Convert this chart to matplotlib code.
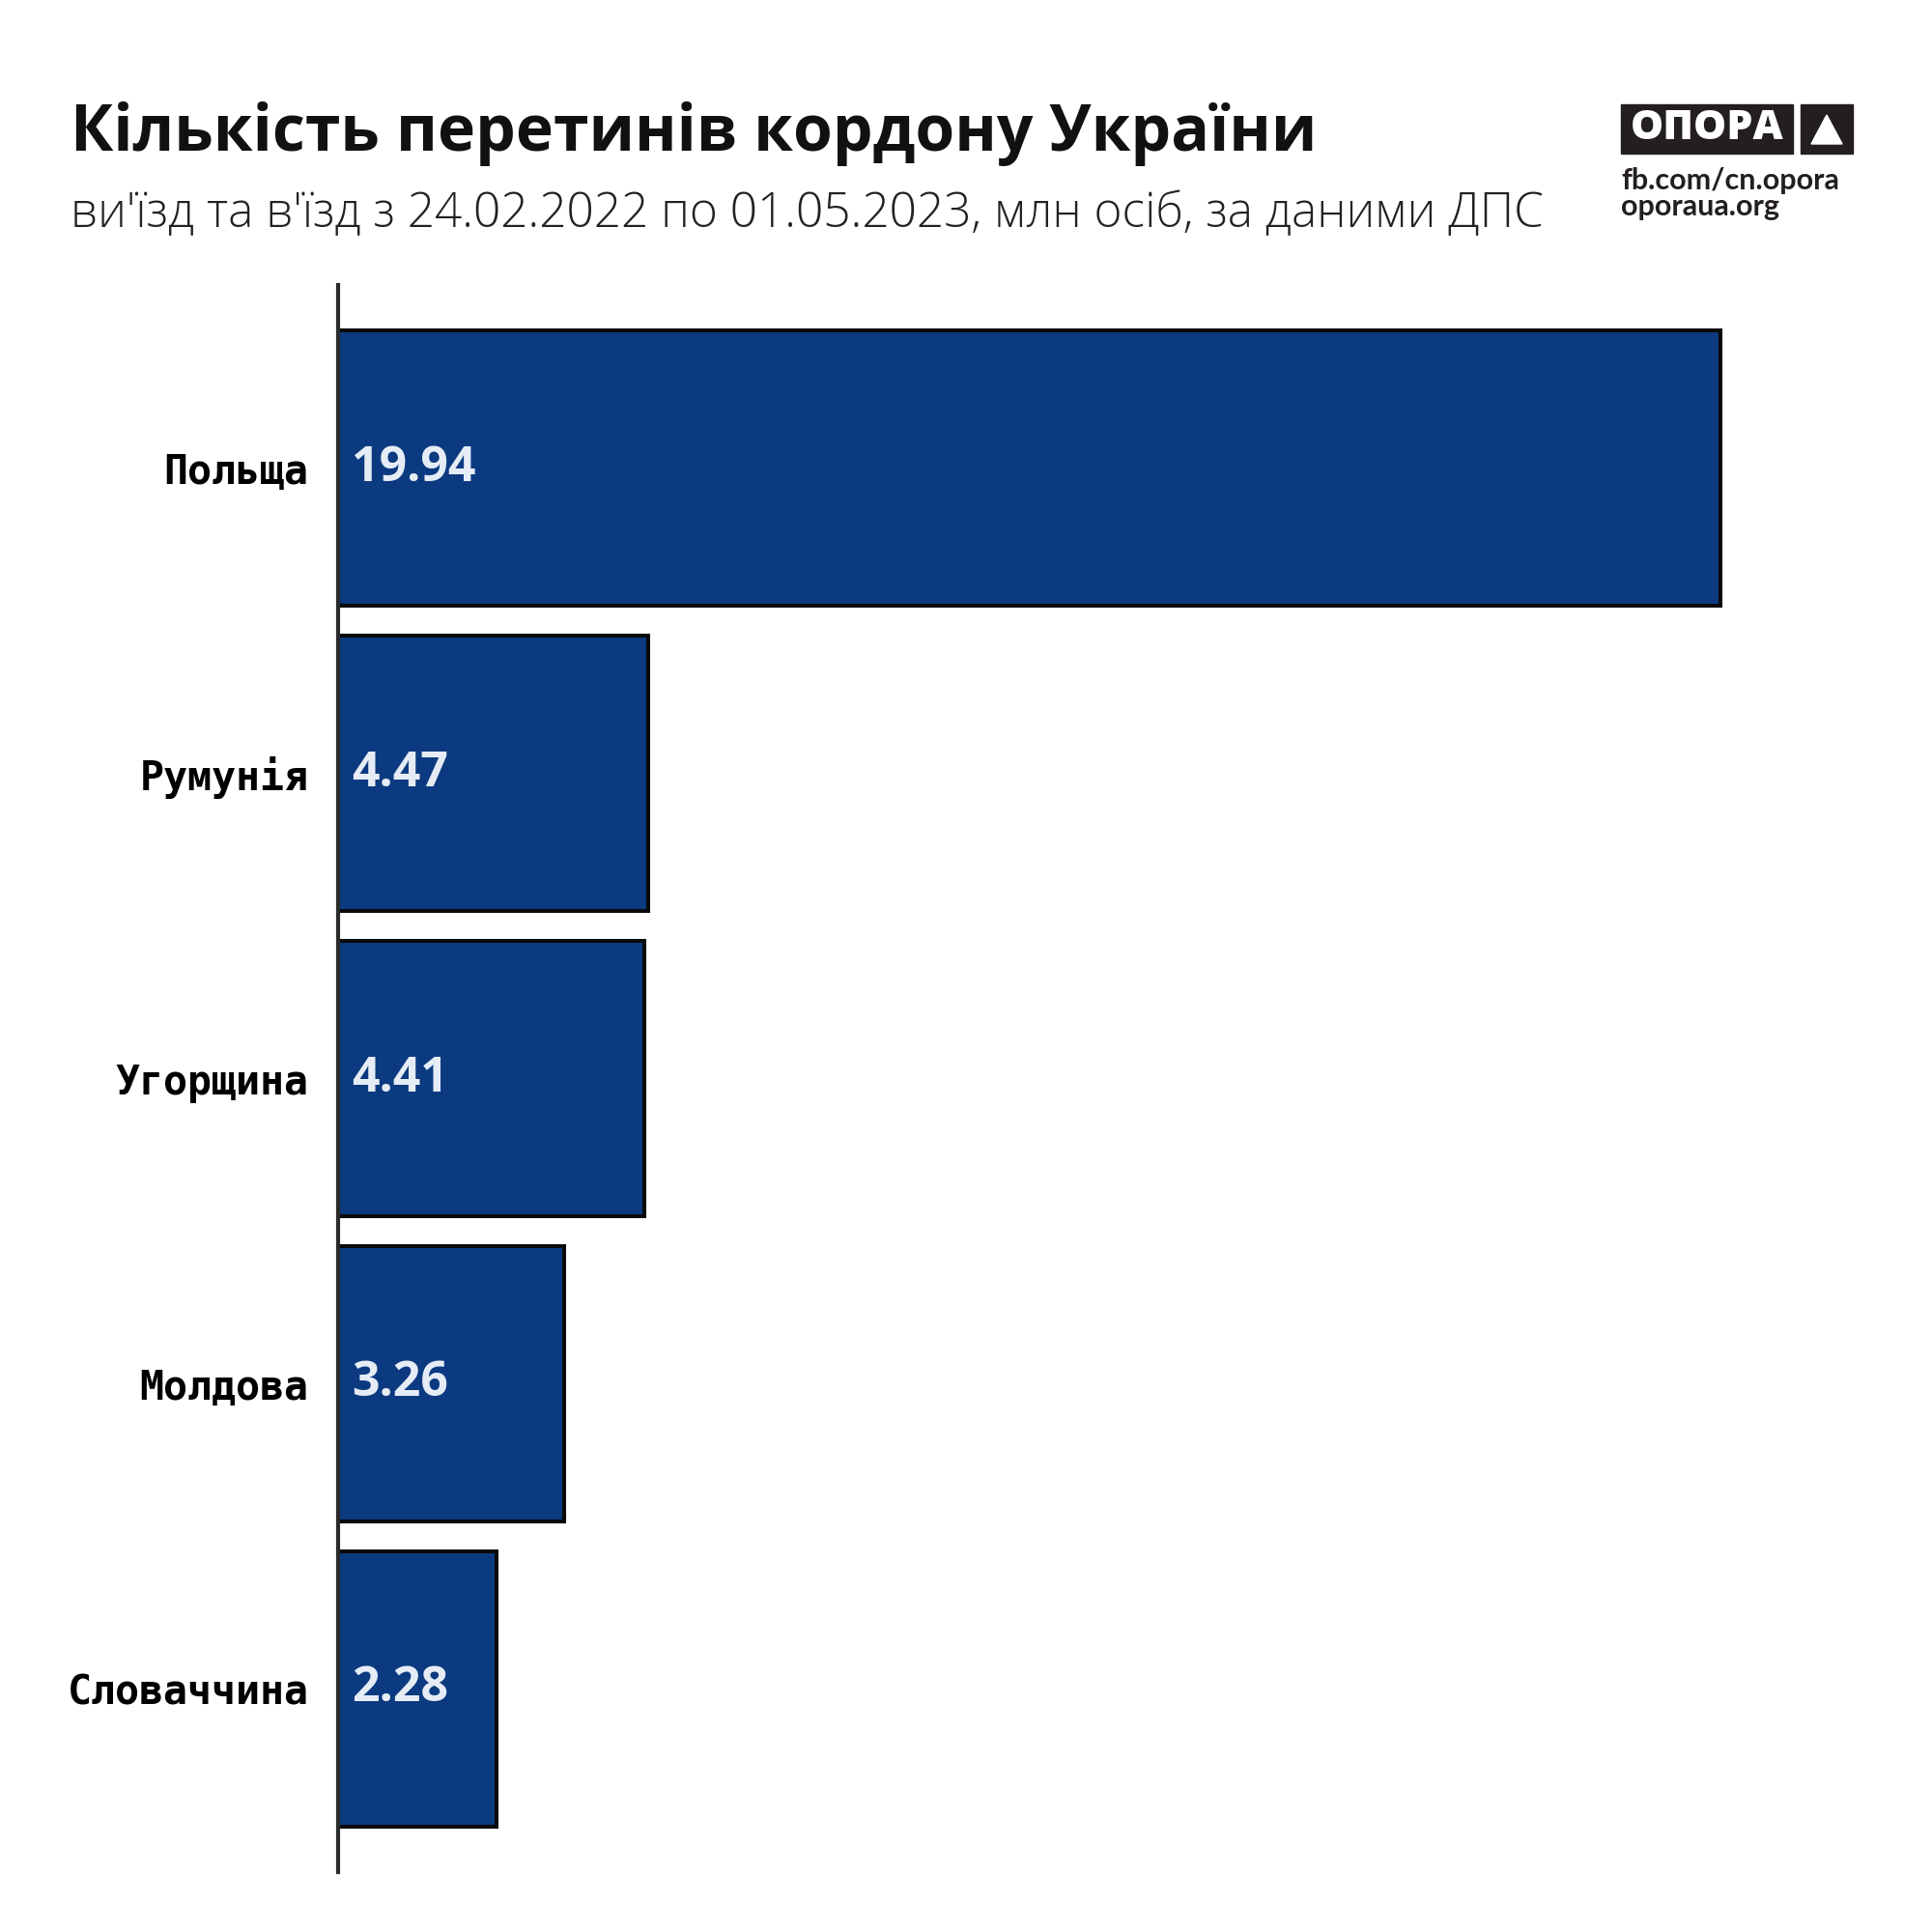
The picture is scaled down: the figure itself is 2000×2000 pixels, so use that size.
import matplotlib.pyplot as plt
from matplotlib.patches import Rectangle, Polygon

# дані
krainy = ['Польща', 'Румунія', 'Угорщина', 'Молдова', 'Словаччина']
znachennia = [19.94, 4.47, 4.41, 3.26, 2.28]

kolir_bar = '#0B3A80'
kolir_tekst = '#E6ECF5'

fig = plt.figure(figsize=(20, 20), dpi=100)
ax = fig.add_axes([0.175, 0.031, 0.795, 0.8215])

pozycii = list(range(len(krainy)))
ax.barh(pozycii, znachennia, height=0.9, color=kolir_bar,
        edgecolor='#0a0a0a', linewidth=2.9)

for p, v in zip(pozycii, znachennia):
    ax.annotate(f'{v:.2f}', xy=(0, p), xytext=(10, 0), textcoords='offset points',
                ha='left', va='center', fontsize=36, fontweight='bold',
                family='Open Sans', color=kolir_tekst)

ax.set_xlim(0, 22.15)
ax.set_ylim(len(krainy) - 0.4, -0.6)
ax.set_yticks(pozycii)
ax.set_yticklabels(krainy, family='DejaVu Sans Mono', fontweight='bold', fontsize=30)
ax.tick_params(axis='y', length=0, pad=22)
ax.set_xticks([])
for s in ['top', 'right', 'bottom']:
    ax.spines[s].set_visible(False)
ax.spines['left'].set_color('#2a2a2a')
ax.spines['left'].set_linewidth(3)

# заголовок
fig.text(0.0365, 0.922, 'Кількість перетинів кордону України', fontsize=47.5,
         fontweight='bold', family='Open Sans', color='#111111', va='baseline')
fig.text(0.0365, 0.8826, "ви'їзд та в'їзд з 24.02.2022 по 01.05.2023, млн осіб, за даними ДПС",
         fontsize=35.7, fontweight='light', family='Open Sans', color='#222222', va='baseline')

# логотип
fig.patches.append(Rectangle((0.839, 1 - 0.0795), 0.0890, 0.0255,
                             transform=fig.transFigure, color='#231f20'))
fig.patches.append(Rectangle((0.932, 1 - 0.0795), 0.027, 0.0255,
                             transform=fig.transFigure, color='#231f20'))
fig.patches.append(Polygon([(0.9375, 1 - 0.0745), (0.9535, 1 - 0.0745), (0.9455, 1 - 0.0595)],
                           transform=fig.transFigure, color='white'))
fig.text(0.8835, 1 - 0.0665, 'ОПОРА', fontsize=31, fontweight='heavy', family='Open Sans',
         color='white', ha='center', va='center')
fig.text(0.839, 1 - 0.0935, 'fb.com/cn.opora', fontsize=22, fontweight='bold', family='Lato',
         color='#231f20', va='center')
fig.text(0.839, 1 - 0.1070, 'oporaua.org', fontsize=22, fontweight='bold', family='Lato',
         color='#231f20', va='center')

fig.savefig('out.png', dpi=100, facecolor='white')
